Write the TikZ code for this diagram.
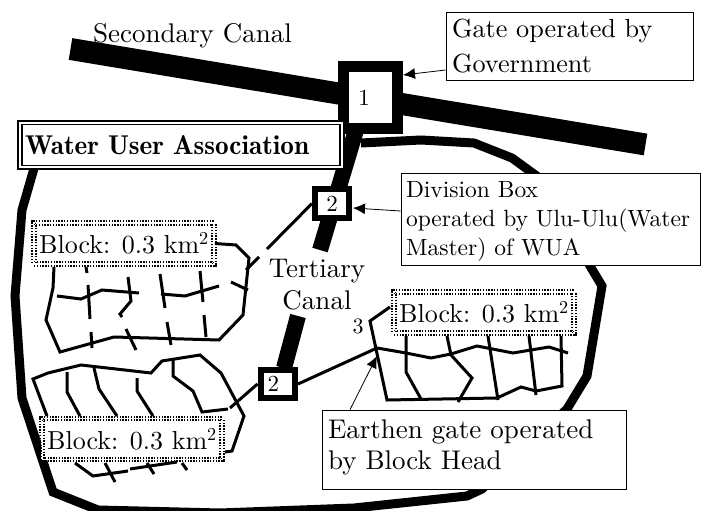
\documentclass[tikz,border=0pt]{standalone}
\usepackage{fontspec}
\setmainfont{lmroman10-regular}[Extension=.otf, BoldFont=lmromandemi10-regular]
\usetikzlibrary{arrows.meta}
\tikzset{
    canal/.style={line width=16pt},
    ditch/.style={line width=3pt, line join=miter},
    boundary/.style={line width=9pt, line join=miter},
    gatebox/.style={rectangle, draw, fill=white, line width=6pt, inner sep=0pt,
        font=\fontsize{23}{24}\selectfont},
    notebox/.style={rectangle, draw, fill=white, line width=0.8pt, align=left,
        inner xsep=6pt, inner ysep=0pt, font=\fontsize{26.2}{35}\selectfont},
    blockbox/.style={rectangle, draw, fill=white, double, line width=1.8pt, double distance=1.6pt,
        dash pattern=on 1.4pt off 1.4pt, minimum width=180pt, minimum height=41pt, inner sep=0pt,
        font=\fontsize{26}{30}\selectfont},
    plain/.style={align=center, inner sep=0pt, font=\fontsize{27}{32}\selectfont},
    pointer/.style={-{Latex[length=12pt,width=11pt]}, line width=0.8pt}
}
\begin{document}
\begin{tikzpicture}[x=1pt,y=-1pt]
    \useasboundingbox (0,0) rectangle (707,511);
    % canals
    \draw[line width=22pt] (70.5,49) -- (645.5,144.5);
    \draw[canal] (356,130) -- (320,250);
    \draw[canal] (298,316) -- (284,368);
    % association boundary
    \draw[boundary] (361,143) -- (421,140) -- (474,143) -- (512,158) -- (545,182) -- (590,266) -- (602,286)
        -- (587,376) -- (567,409) -- (482,489) -- (467,496) -- (354,508) -- (220,513) -- (98,510)
        -- (53,492) -- (22,398) -- (15,296) -- (22,210) -- (35,165);
    % gates
    \node[gatebox, line width=11pt, minimum width=54pt, minimum height=62pt] (gateone) at (370.5,97.5) {1\hspace{13pt}\null};
    \node[gatebox, minimum width=34pt, minimum height=29pt] (divupper) at (332,203.5) {2};
    \node[gatebox, minimum width=34.5pt, minimum height=28pt] (divlower) at (277.75,384) {2\hspace{9pt}\null};
    % labels
    \node[notebox, line width=1.5pt, double, double distance=2.2pt, text width=316pt, inner xsep=3pt, minimum height=44.7pt,
        font=\bfseries\fontsize{27.2}{30}\selectfont] (wua) at (181,145) {\hspace*{2pt}Water User Association};
    \node[blockbox] (blocka) at (124,243.5) {Block: 0.3 km\textsuperscript{2}};
    \node[blockbox] (blockb) at (132,439) {Block: 0.3 km\textsuperscript{2}};
    \node[blockbox] (blockc) at (484,312.5) {Block: 0.3 km\textsuperscript{2}};
    \node[notebox, text width=235pt, minimum height=68pt] (gatenote) at (569.5,46) {Gate operated by\\Government};
    \node[notebox, text width=289pt, inner xsep=5pt, minimum height=92pt, font=\fontsize{23.5}{29}\selectfont] (divnote) at (550.5,219)
        {\rule{0pt}{21pt}Division Box\\\mbox{operated by Ulu-Ulu(Water}\\Master) of WUA};
    \node[notebox, text width=292pt, minimum height=79pt, font=\fontsize{27}{31}\selectfont] (earthnote) at (474,449.5)
        {Earthen gate operated\\by Block Head\rule[-10pt]{0pt}{0pt}};
    \node[plain] (secondary) at (192.5,36) {Secondary Canal};
    \node[plain] (tertiary) at (317,285) {Tertiary\\Canal};
    \node[plain, font=\fontsize{22}{24}\selectfont] (three) at (358,326) {3};
    % pointers
    \draw[pointer] ([yshift=-24pt]gatenote.west) -- ([yshift=22.5pt]gateone.east);
    \draw[pointer] ([yshift=8pt]divnote.west) -- ([yshift=-4.5pt,xshift=1pt]divupper.east);
    \draw[pointer] ([xshift=-124pt]earthnote.north) -- (377,356);
    % upper left block
    \draw[ditch] (blocka.east) -- (236,245) -- (249,258) -- (243,315) -- (219,340) -- (114,337) -- (60,352)
        -- (46,320) -- (53,288) -- (54,267);
    \draw[ditch] (divupper.west) -- (267,249);
    \draw[ditch] (259,257) -- (246,270);
    \draw[ditch] (57,296) -- (81,299) -- (102,290) -- (139,293);
    \draw[ditch] (88,285) -- (90,319);
    \draw[ditch] (91,332) -- (92,348);
    \draw[ditch] (86,267) -- (87,273);
    \draw[ditch] (128,277) -- (131,301) -- (120,314) -- (122,317);
    \draw[ditch] (126,329) -- (136,350);
    \draw[ditch] (160,274) -- (165,308);
    \draw[ditch] (161,294) -- (185,296) -- (219,286);
    \draw[ditch] (200,271) -- (203,302);
    \draw[ditch] (204,315) -- (206,337);
    \draw[ditch] (167,322) -- (171,345);
    \draw[ditch] (231,282) -- (248,290);
    % lower left block
    \draw[ditch] (47,416) -- (33,379) -- (48,373) -- (81,365) -- (151,373) -- (162,361) -- (200,355) -- (221,373)
        -- (244,416) -- (232,451) -- (225,452);
    \draw[ditch] (67,372) -- (67,392) -- (80,416);
    \draw[ditch] (94,368) -- (99,389) -- (117,416);
    \draw[ditch] (137,378) -- (137,391) -- (153,416);
    \draw[ditch] (173,360) -- (173,376) -- (193,391) -- (202,412) -- (228,409);
    \draw[ditch] (divlower.west) -- (230,408);
    \draw[ditch] (75,463) -- (93,476) -- (128,471);
    \draw[ditch] (130,469) -- (177,462);
    \draw[ditch] (105,463) -- (115,482);
    \draw[ditch] (147,463) -- (154,474);
    \draw[ditch] (182,463) -- (187,470);
    % right block
    \draw[ditch] (divlower.east) -- (377,348) -- (406,353) -- (431,358) -- (451,354) -- (477,346) -- (513,353)
        -- (549,347) -- (568,353);
    \draw[ditch] (390,307) -- (370,321) -- (387,400) -- (497,398) -- (521,387) -- (536,391) -- (562,386) -- (561,336);
    \draw[ditch] (406,336) -- (406,372) -- (421,399);
    \draw[ditch] (447,336) -- (451,355) -- (472,378) -- (458,402);
    \draw[ditch] (488,336) -- (498,400);
    \draw[ditch] (529,336) -- (536,395);
\end{tikzpicture}
\end{document}
